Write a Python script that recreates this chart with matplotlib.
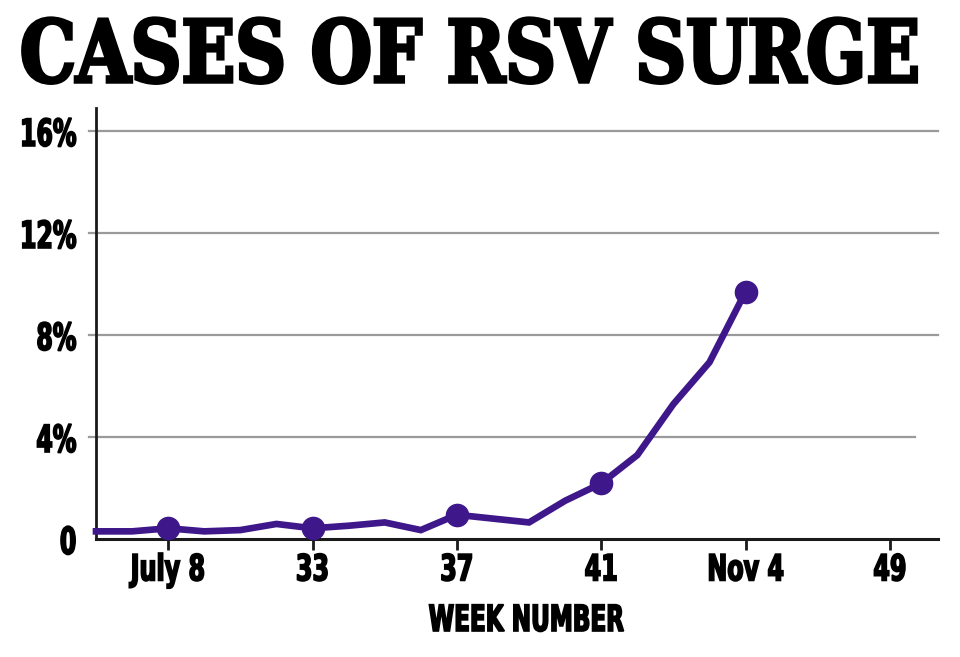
import matplotlib
matplotlib.use('Agg')
from matplotlib import pyplot as plt
from matplotlib.patheffects import AbstractPathEffect
from matplotlib.transforms import Affine2D

# data (share of tests positive, %)
weeks = [27, 28, 29, 30, 31, 32, 33, 34, 35, 36, 37, 38, 39, 40, 41, 42, 43, 44, 45]
cases = [0.3, 0.3, 0.42, 0.3, 0.35, 0.59, 0.42, 0.52, 0.65, 0.35, 0.95, 0.8, 0.65,
         1.5, 2.18, 3.29, 5.29, 6.93, 9.7]
marker_weeks = [29, 33, 37, 41, 45]

xtick_pos = [29, 33, 37, 41, 45, 49]
xtick_labels = ['July 8', '33', '37', '41', 'Nov 4', '49']
ytick_pos = [0, 4, 8, 12, 16]
ytick_labels = ['0', '4%', '8%', '12%', '16%']

purple = '#3e178a'
grid_grey = '#9a9a9a'


class Condensed(AbstractPathEffect):
    """Reshape text glyphs (no condensed fonts installed) and thicken them.
    sx/sy scale the glyphs around the anchor / baseline, dy shifts in pixels."""

    def __init__(self, sx=0.7, sy=1.0, anchor='center', stroke=1.0, width_px=None, dy=0):
        super().__init__()
        self.sx, self.sy, self.anchor = sx, sy, anchor
        self.stroke, self.width_px, self.dy = stroke, width_px, dy

    def draw_path(self, renderer, gc, tpath, affine, rgbFace=None):
        ext = tpath.get_extents()
        cx = {'left': ext.x0, 'right': ext.x1}.get(self.anchor, (ext.x0 + ext.x1) / 2)
        sx = self.sx
        if self.width_px is not None:
            w = tpath.transformed(affine).get_extents().width
            sx = (self.width_px - self.stroke) / w
        squeeze = Affine2D().translate(-cx, 0).scale(sx, self.sy).translate(cx, 0)
        gc0 = renderer.new_gc()
        gc0.copy_properties(gc)
        gc0.set_linewidth(self.stroke)
        gc0.set_foreground(rgbFace)
        gc0.set_joinstyle('miter')
        renderer.draw_path(gc0, tpath, squeeze + affine + Affine2D().translate(0, self.dy),
                           rgbFace)
        gc0.restore()


fig = plt.figure(figsize=(9.6, 6.57), dpi=100)
ax = fig.add_axes([0.1, 0.1796, 0.877, 0.656])

ax.set_xlim(27, 50.33)
ax.set_ylim(0, 16.9)

# horizontal grid lines (the 4% one stops a bit short)
for y in ytick_pos[1:]:
    x_end = 49.7 if y == 4 else 50.33
    ax.plot([26.8, x_end], [y, y], color=grid_grey, lw=1.6, clip_on=False, zorder=1)

ax.plot(weeks, cases, color=purple, lw=4.8, solid_joinstyle='miter', zorder=3,
        clip_on=False)
mk = [cases[weeks.index(w)] for w in marker_weeks]
ax.plot(marker_weeks, mk, 'o', color=purple, ms=16, zorder=4, clip_on=False)

for s in ['top', 'right']:
    ax.spines[s].set_visible(False)
ax.spines['left'].set_linewidth(2)
ax.spines['bottom'].set_linewidth(2.2)
ax.spines['left'].set_color('#1a1a1a')
ax.spines['bottom'].set_color('#1a1a1a')

ax.set_xticks(xtick_pos)
ax.set_xticklabels(xtick_labels, fontsize=20, fontweight='bold')
ax.set_yticks(ytick_pos)
ax.set_yticklabels(ytick_labels, fontsize=20, fontweight='bold')
ax.tick_params(axis='x', length=8, width=2, color='#1a1a1a', pad=6)
ax.tick_params(axis='y', length=0, pad=14)
for t in ax.get_xticklabels():
    t.set_path_effects([Condensed(0.66 * 1.3, 1.3, 'center', 1.2)])
for t in ax.get_yticklabels():
    t.set_path_effects([Condensed(0.63 * 1.35, 1.35, 'right', 1.2, dy=-4)])

fig.text(526 / 960, 26 / 657, 'WEEK NUMBER', ha='center', va='baseline',
         fontsize=20, fontweight='bold',
         path_effects=[Condensed(0.64 * 1.3, 1.3, 'center', 1.2)])

fig.text(470 / 960, (657 - 82) / 657, 'CASES OF RSV SURGE', ha='center',
         va='baseline', fontsize=44, fontweight='bold', family='DejaVu Serif',
         path_effects=[Condensed(sy=62 / 44, anchor='center', stroke=2.5,
                                 width_px=896)])

plt.savefig('out.png', dpi=100)
